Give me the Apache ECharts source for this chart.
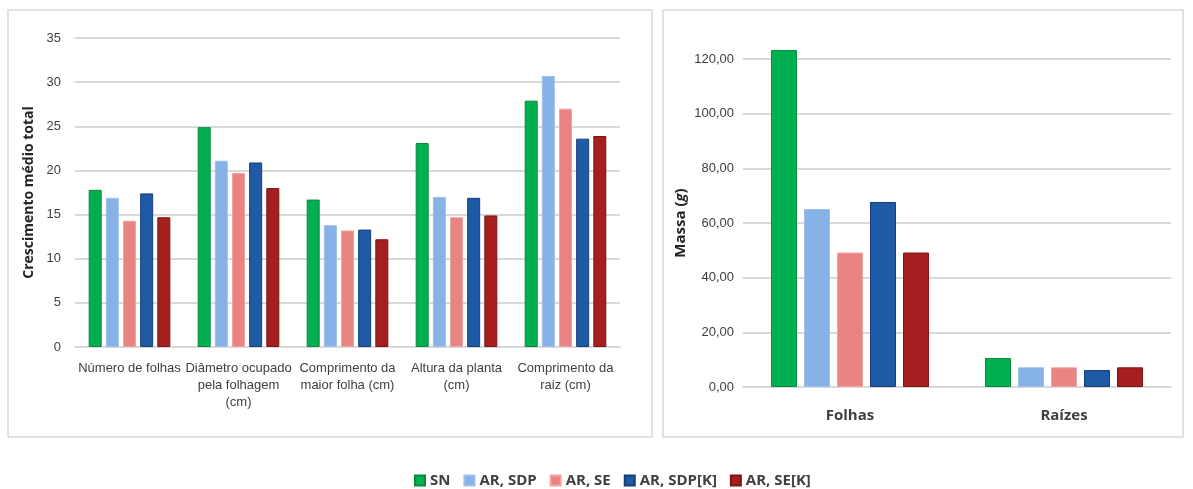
<!DOCTYPE html>
<html>
<head>
<meta charset="utf-8">
<script src="https://cdn.jsdelivr.net/npm/echarts@6/dist/echarts.min.js"></script>
<style>
  html, body { margin: 0; padding: 0; background: #fff; }
  #chart { width: 1193px; height: 489px; }
</style>
</head>
<body>
<div id="chart"></div>
<script>
// dados - gráfico do crescimento
const categoriasCresc = ['Número de folhas', 'Diâmetro ocupado\npela folhagem\n(cm)', 'Comprimento da\nmaior folha (cm)', 'Altura da planta\n(cm)', 'Comprimento da\nraiz (cm)']
const categoriasMassa = ['Folhas', 'Raízes']
const tratamentos = ['SN', 'AR, SDP', 'AR, SE', 'AR, SDP[K]', 'AR, SE[K]']

const crescSN = [17.8, 24.9, 16.7, 23.1, 27.9]
const crescSDP = [16.9, 21.1, 13.8, 17.0, 30.7]
const crescSE = [14.3, 19.7, 13.2, 14.7, 27.0]
const crescSDPK = [17.4, 20.9, 13.3, 16.9, 23.6]
const crescSEK = [14.7, 18.0, 12.2, 14.9, 23.9]

const massaSN = [123.3, 10.6]
const massaSDP = [65.1, 7.2]
const massaSE = [49.2, 7.2]
const massaSDPK = [67.7, 6.2]
const massaSEK = [49.2, 7.2]

const cores = ['#00B050', '#86B2E6', '#E88582', '#1F5AA6', '#A61F1F']
const bordas = ['#0A8A3E', '#9CC0EA', '#F0A3A0', '#163F78', '#7A1515']

const myChart = echarts.init(document.getElementById('chart'))

const fonte = "'Liberation Sans Narrow', 'Arial Narrow', sans-serif"
const corTexto = '#404040'

const crescDados = [crescSN, crescSDP, crescSE, crescSDPK, crescSEK]
const massaDados = [massaSN, massaSDP, massaSE, massaSDPK, massaSEK]

const series = []
tratamentos.forEach((nome, i) => {
  series.push({
    name: nome, type: 'bar', xAxisIndex: 0, yAxisIndex: 0,
    data: crescDados[i], barWidth: 13, barGap: '32%',
    itemStyle: { color: cores[i], borderColor: bordas[i], borderWidth: 1 }
  })
  series.push({
    name: nome, type: 'bar', xAxisIndex: 1, yAxisIndex: 1,
    data: massaDados[i], barWidth: 26, barGap: '27%', clip: false,
    itemStyle: { color: cores[i], borderColor: bordas[i], borderWidth: 1 }
  })
})

myChart.setOption({
  animation: false,
  color: cores,
  graphic: [
    { type: 'rect', shape: { x: 8, y: 10, width: 644, height: 427 }, style: { fill: 'none', stroke: '#d9d9d9', lineWidth: 1.5 } },
    { type: 'rect', shape: { x: 663, y: 10, width: 520, height: 427 }, style: { fill: 'none', stroke: '#d9d9d9', lineWidth: 1.5 } }
  ],
  legend: {
    data: tratamentos,
    top: 468,
    left: 409,
    itemWidth: 10, itemHeight: 10, itemGap: 13,
    icon: 'rect',
    textStyle: { fontFamily: "'Open Sans', sans-serif", fontWeight: 'bold', fontSize: 15, color: corTexto }
  },
  grid: [
    { left: 75, right: 573, top: 38, bottom: 142 },
    { left: 743, right: 22, top: 59, bottom: 102 }
  ],
  xAxis: [
    {
      type: 'category', gridIndex: 0, data: categoriasCresc,
      axisTick: { show: false },
      axisLine: { lineStyle: { color: '#d9d9d9', width: 2 } },
      axisLabel: { interval: 0, margin: 13, fontFamily: fonte, fontSize: 13, lineHeight: 17, color: corTexto }
    },
    {
      type: 'category', gridIndex: 1, data: categoriasMassa,
      axisTick: { show: false },
      axisLine: { lineStyle: { color: '#d9d9d9', width: 2 } },
      axisLabel: { margin: 21, fontFamily: "'Open Sans', sans-serif", fontWeight: 'bold', fontSize: 15, color: corTexto }
    }
  ],
  yAxis: [
    {
      type: 'value', gridIndex: 0, min: 0, max: 35, interval: 5,
      name: 'Crescimento médio total', nameLocation: 'middle', nameRotate: 90, nameGap: 39,
      nameTextStyle: { fontFamily: "'Open Sans', sans-serif", fontWeight: 'bold', fontSize: 14, color: '#262626' },
      axisLabel: { margin: 14, fontFamily: fonte, fontSize: 13, color: corTexto },
      splitLine: { lineStyle: { color: '#d9d9d9', width: 2 } }
    },
    {
      type: 'value', gridIndex: 1, min: 0, max: 120, interval: 20,
      name: '{n|Massa (}{i|g}{n|)}', nameLocation: 'middle', nameRotate: 90, nameGap: 55,
      nameTextStyle: {
        rich: {
          n: { fontFamily: "'Open Sans', sans-serif", fontWeight: 'bold', fontSize: 15, color: '#262626' },
          i: { fontFamily: "'Open Sans', sans-serif", fontWeight: 'bold', fontStyle: 'italic', fontSize: 15, color: '#262626' }
        }
      },
      axisLabel: {
        margin: 9, fontFamily: fonte, fontSize: 13, color: corTexto,
        formatter: v => v.toFixed(2).replace('.', ',')
      },
      splitLine: { lineStyle: { color: '#d9d9d9', width: 2 } }
    }
  ],
  series: series
})
</script>
</body>
</html>
